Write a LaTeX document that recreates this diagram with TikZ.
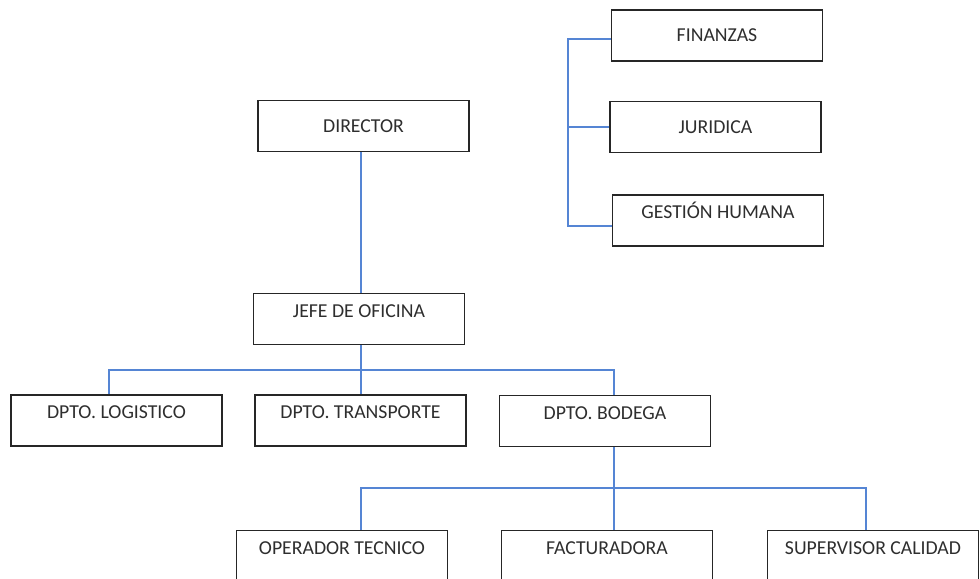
\documentclass[tikz,border=0pt]{standalone}
\usepackage{fontspec}
\setmainfont{Carlito}
\usepackage{xcolor}
\usetikzlibrary{positioning,calc}
\definecolor{ink}{HTML}{262626}
\definecolor{inkgray}{HTML}{2E2E2E}
\definecolor{linkblue}{HTML}{5585D4}
\tikzset{
  orgbox/.style={draw=ink,fill=white,line width=1.1pt,
                 minimum width=158pt,minimum height=38.5pt,inner sep=0pt,
                 align=center,text=inkgray,font=\fontsize{14.8}{17}\selectfont},
  orgboxtop/.style={orgbox,text height=9pt,text depth=11.5pt},
  orglink/.style={draw=linkblue,line width=0.85pt}
}
\begin{document}
\begin{tikzpicture}[x=0.75pt,y=-0.75pt]
    \path[use as bounding box,fill=white] (0,0) rectangle (980,578);

    % staff units
    \node[orgbox] (finanzas) at (717,35.5) {FINANZAS};
    \node[orgbox] (juridica) at (715.5,127) {JURIDICA};
    \node[orgboxtop] (gestion) at (718,220.5) {GESTIÓN HUMANA};

    % line units
    \node[orgbox] (director) at (363.5,126) {DIRECTOR};
    \node[orgboxtop] (jefe) at (359,319) {JEFE DE OFICINA};

    \node[orgboxtop] (logistico) at (116.5,420.5) {DPTO. LOGISTICO};
    \node[orgboxtop] (transporte) at (360.5,420.5) {DPTO. TRANSPORTE};
    \node[orgboxtop] (bodega) at (605,421) {DPTO. BODEGA};

    \node[orgboxtop] (operador) at (342,556) {OPERADOR TECNICO};
    \node[orgboxtop] (facturadora) at (607,556) {FACTURADORA};
    \node[orgboxtop] (supervisor) at (873,556) {SUPERVISOR CALIDAD};

    % bus points
    \coordinate (staffTop) at (568,39);
    \coordinate (staffBot) at (568,226);
    \coordinate (busJefe) at (361,370);
    \coordinate (dropA) at (109,370);
    \coordinate (dropB) at (614,370);
    \coordinate (busBodega) at (614,488);
    \coordinate (dropC) at (361,488);
    \coordinate (dropD) at (866,488);

    \draw[orglink] (staffTop -| finanzas.west) -- (staffTop) -- (staffBot)
      -- (staffBot -| gestion.west);
    \draw[orglink] (juridica.west -| staffTop) -- (juridica.west);

    \draw[orglink] (director.south -| busJefe) -- (jefe.north -| busJefe);
    \draw[orglink] (jefe.south -| busJefe) -- (busJefe |- transporte.north);
    \draw[orglink] (dropA |- logistico.north) -- (dropA) -- (dropB)
      -- (dropB |- bodega.north);

    \draw[orglink] (bodega.south -| busBodega) -- (busBodega |- facturadora.north);
    \draw[orglink] (dropC |- operador.north) -- (dropC) -- (dropD)
      -- (dropD |- supervisor.north);
  \end{tikzpicture}
\end{document}
